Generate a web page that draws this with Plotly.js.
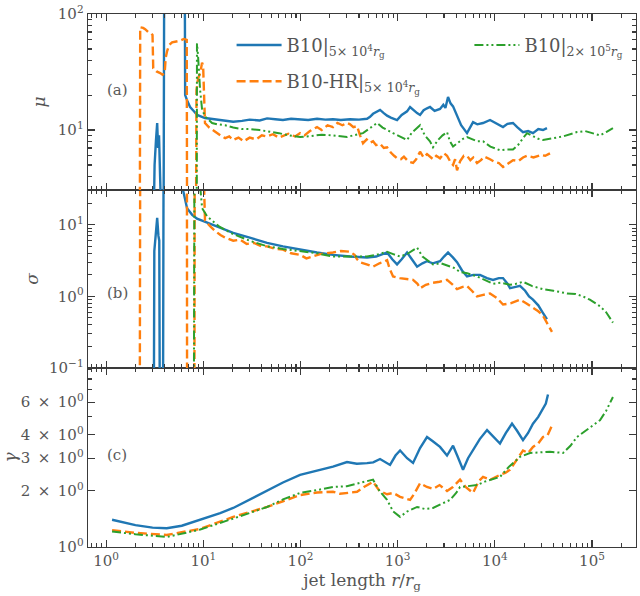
<!DOCTYPE html>
<html>
<head>
<meta charset="utf-8">
<script src="https://cdn.plot.ly/plotly-3.0.1.min.js"></script>
<style>html,body{margin:0;padding:0;background:#fff;}#chart{width:640px;height:596px;}</style>
</head>
<body>
<div id="chart"></div>
<script>
// ---------- Data ----------
const seriesNames = [
  "B10|<sub>5× 10<sup>4</sup><i>r</i><sub>g</sub></sub>",
  "B10-HR|<sub>5× 10<sup>4</sup><i>r</i><sub>g</sub></sub>",
  "B10|<sub>2× 10<sup>5</sup><i>r</i><sub>g</sub></sub>"
];

// Panel (a): mu
const muB10X = [1.15,2.0,3.08,3.15,3.25,3.35,3.42,3.5,3.59,3.7,3.9,3.95,6.45,6.5,6.9,7.31,8.0,8.63,10.4,13,16.8,20.3,25,30,38,45.3,55,66,80,99,120,148,180,216,260,324,400,484,520,558,600,659,720,778,850,986,1100,1250,1342,1450,1585,1700,1850,2005,2153,2400,2728,2950,3100,3300,3500,3716,4085,4500,5175,5600,5970,6600,7564,8929,10300,12140,13500,15380,17000,19500,22000,24700,28000,31310,34410];
const muB10 = [1.2,1.3,1.6,5,8,11.5,7,9,4,1.6,1.6,150,150,20,17.5,15.8,14.5,13.5,12.7,12.4,12.2,11.8,12.0,12.3,12.1,12.6,12.4,12.2,12.5,12.3,12.2,12.5,12.3,12.4,12.2,12.4,12.3,12.5,13.0,13.8,14.2,14.9,14.0,13.3,12.8,12.2,13.5,14.5,15.8,14.8,14.0,13.5,14.8,15.4,15.8,14.6,15.2,16.5,15.5,19.3,17.0,16.0,13.5,11.0,9.4,10.8,11.7,11.2,11.5,12.2,11.5,10.6,11.3,11.5,10.6,9.6,9.8,9.4,10.2,10.0,10.4];

const muHRX = [1.15,2.22,2.24,2.4,2.52,2.7,2.9,3.0,3.05,3.3,3.6,3.8,4.0,4.1,4.24,4.45,4.77,5.3,5.77,6.3,6.75,6.8,8.4,8.5,8.84,9.3,9.7,9.95,10.2,10.4,11.5,13.2,15,16.8,18.5,20.3,23,26,30,35,40,45.3,52,60,66,75,88,99,110,125,148,165,190,216,240,270,300,324,350,382,410,440,480,520,558,600,660,720,778,850,920,986,1080,1160,1250,1340,1440,1550,1700,1850,2005,2311,2500,2728,3000,3221,3500,3716,3900,4085,4400,4800,5175,5600,6000,6560,7200,7800,8929,10000,11000,12140,13500,15380,17500,19500,21440,25000,30000,33000,36960];
const muHR = [1.2,1.3,77,76,74,70,68,66,34,32,31,30,31,42,48,54,57,58,59,61,60,1.4,1.4,22,28,31,38,36,22,11.5,10.5,9.6,9.0,8.5,8.8,8.2,8.6,8.0,8.6,8.3,9.0,8.8,9.2,8.6,8.9,9.3,8.8,9.4,9.0,9.8,10.6,10.0,11.0,10.6,11.5,11.0,11.5,11.2,10.6,10.8,9.0,7.7,8.3,7.8,8.0,7.4,7.6,7.0,7.1,6.4,6.0,5.7,5.6,5.9,5.5,5.3,5.2,5.6,6.5,5.8,6.2,5.6,6.0,5.7,6.3,6.0,5.3,5.0,5.6,4.5,5.4,6.0,6.0,5.5,5.8,5.2,5.5,5.9,5.6,5.3,5.2,4.8,5.1,5.5,5.4,5.8,6.0,5.8,6.1,6.0,6.3];

const muLongX = [1.15,8.0,8.55,8.6,8.8,9.0,9.27,9.72,10.5,12.3,14,16.8,20.3,25,30,38,45.3,60,75,99,130,165,216,260,301,350,400,440,520,614,700,800,897,1000,1100,1250,1400,1600,1700,1900,2150,2311,2600,2900,3221,3450,3716,4200,4700,5175,6000,6560,7564,9000,11300,13000,15380,17500,19500,21440,25000,28000,31310,35000,39690,50000,60000,70140,85000,100000,120800,140000,164300];
const muLong = [1.2,1.3,1.4,56,45,30,22,14.9,13,11.5,11.2,11,10.5,10.2,10.2,10.0,9.8,9.4,9.0,8.7,8.9,9.1,9.0,8.8,8.7,9.0,9.2,9.4,10.4,11.5,10.5,9.8,9.4,9.0,8.6,8.2,9.5,10.4,11.0,9.0,8.0,7.1,8.2,9.0,9.6,8.0,7.2,7.8,8.4,8.7,8.3,8.0,8.0,7.2,6.7,6.8,6.8,7.5,8.5,9.4,8.8,8.4,8.2,8.4,8.5,8.8,9.2,9.6,9.8,9.4,9.0,9.6,10.4];

// Panel (b): sigma
const sigB10X = [1.15,3.1,3.13,3.25,3.35,3.45,3.52,3.56,3.85,3.9,6.15,6.2,6.5,6.8,7.67,8.6,9.72,11.5,13.2,16.8,20.3,30,45.3,66,99,148,216,324,484,600,700,778,880,986,1100,1250,1400,1585,1800,2005,2300,2728,3000,3300,3700,4085,4600,5175,6000,7045,8300,9580,11000,12140,13500,14330,16000,18160,20500,22500,24700,28000,31000,34410];
const sigB10 = [0.05,0.05,4.3,8,12.5,7,6,0.05,0.05,100,100,30,21,17,13.8,12.2,11.4,10.4,9.7,8.5,7.7,6.6,5.6,5.0,4.5,4.1,3.8,3.6,3.5,3.6,3.9,4.1,3.3,2.8,3.3,4.1,3.3,2.6,2.9,3.1,2.9,3.1,3.6,4.1,3.5,3.0,2.3,1.9,2.0,2.0,1.8,1.7,1.8,1.8,1.5,1.3,1.35,1.4,1.2,1.0,0.9,0.75,0.6,0.48];

const sigHRX = [1.15,2.22,2.24,6.78,6.8,8.1,8.15,9.95,10.2,10.4,11.8,13.2,15,16.8,20.3,24,28,33,40,45.3,55,66,80,99,115,130,160,216,260,324,360,382,410,480,558,650,778,830,897,1050,1250,1440,1600,1700,1950,2311,2700,3221,3600,4085,4600,5175,5800,6560,7600,8929,10500,12140,14500,18160,21000,24700,28000,31000,34410,38740];
const sigHR = [0.05,0.05,100,100,0.05,0.05,100,100,30,11.4,9.5,8.2,7.2,6.6,6.0,6.2,5.4,5.6,5.0,5.0,4.6,4.5,4.0,3.8,3.4,3.6,3.9,4.1,4.3,4.2,3.8,3.3,3.0,2.8,2.6,2.9,3.2,2.4,1.9,1.8,1.75,1.7,1.5,1.3,1.45,1.55,1.6,1.7,1.5,1.26,1.35,1.4,1.2,1.0,1.05,1.1,0.95,0.77,0.8,0.9,0.8,0.7,0.62,0.55,0.43,0.32];

const sigLongX = [1.15,8.0,8.1,8.9,9.27,9.72,11,12.3,14.5,16.8,20.3,30,45.3,66,99,148,216,324,484,600,778,900,1059,1250,1585,1800,2311,2800,3221,3800,4385,5200,6560,7800,9580,11500,14330,16500,19500,24000,31310,40000,55330,68000,80760,95000,120800,140000,164300];
const sigLong = [0.05,0.05,100,60,35,17,13,11.4,9.5,8.5,7.4,6.0,5.0,4.6,4.3,4.0,3.6,3.6,3.6,3.8,4.2,3.9,3.6,3.9,4.8,3.6,2.8,2.9,2.7,2.5,2.2,2.1,1.9,1.7,1.5,1.55,1.45,1.5,1.6,1.4,1.26,1.2,1.1,1.08,1.0,0.9,0.73,0.6,0.43];

// Panel (c): gamma
const gamB10X = [1.15,1.5,2.0,3.0,4.2,6.0,9.3,14.9,20.3,30,45.3,66,99,148,216,301,380,484,560,659,760,835,950,1059,1250,1440,1700,2005,2300,2728,3221,3716,4100,4708,5300,5970,7000,8318,9800,11300,13000,15030,17000,19500,22000,24700,28000,31310,33500,35250];
const gamB10 = [1.40,1.35,1.31,1.27,1.26,1.30,1.40,1.52,1.62,1.80,2.02,2.22,2.44,2.58,2.7,2.86,2.80,2.82,2.85,2.97,2.85,2.76,3.1,3.3,3.0,2.83,3.4,3.9,3.7,3.45,3.1,3.5,3.1,2.6,3.0,3.3,3.8,4.25,3.9,3.6,4.1,4.6,4.2,3.75,4.1,4.6,5.0,5.6,5.9,6.6];

const gamHRX = [1.15,2.0,4.2,9.3,20.3,30,45.3,66,99,148,216,255,320,382,450,558,650,778,900,1059,1342,1500,1700,2000,2311,2700,3221,3700,4385,5000,5970,6800,7564,9000,11300,12800,14330,16500,19500,22000,24700,28000,31310,35000,38740];
const gamHR = [1.23,1.19,1.16,1.25,1.45,1.54,1.64,1.76,1.9,1.96,1.98,1.93,1.96,1.98,2.1,2.24,2.0,1.92,1.95,1.86,1.79,1.95,2.2,2.1,2.05,2.15,2.0,2.1,2.3,2.1,1.95,2.25,2.38,2.3,2.44,2.5,2.6,2.9,3.3,3.2,3.45,3.6,3.9,4.0,4.5];

const gamLongX = [1.15,2.0,4.2,9.3,20.3,30,45.3,66,99,148,216,300,410,558,650,778,900,1059,1250,1585,1900,2311,2800,3460,4000,4385,5200,6560,8000,11300,14000,18160,23010,30000,36960,50350,60000,70140,90000,120800,140000,164300];
const gamLong = [1.21,1.17,1.13,1.24,1.42,1.52,1.64,1.8,1.95,2.02,2.1,2.12,2.2,2.3,2.0,1.79,1.55,1.45,1.55,1.64,1.6,1.62,1.7,1.79,1.95,2.1,2.12,2.15,2.25,2.38,2.7,3.05,3.2,3.22,3.25,3.2,3.5,3.9,4.3,4.8,5.4,6.4];

// Tick labels
const xTickVals = [1,10,100,1000,10000,100000];
const xTickText = ["10<sup>0</sup>","10<sup>1</sup>","10<sup>2</sup>","10<sup>3</sup>","10<sup>4</sup>","10<sup>5</sup>"];
const muTickVals = [10,100];
const muTickText = ["10<sup>1</sup>","10<sup>2</sup>"];
const sigTickVals = [0.1,1,10];
const sigTickText = ["10<sup>−1</sup>","10<sup>0</sup>","10<sup>1</sup>"];
const gamTickVals = [1,2,3,4,6];
const gamTickText = ["10<sup>0</sup>","2\u2002×\u200210<sup>0</sup>","3\u2002×\u200210<sup>0</sup>","4\u2002×\u200210<sup>0</sup>","6\u2002×\u200210<sup>0</sup>"];
const panelLabels = ["(a)","(b)","(c)"];

// ---------- Styling & build ----------
function minorLog(lo, hi) {
  const v = [];
  for (let e = lo; e <= hi; e++) for (let m = 2; m <= 9; m++) v.push(m * Math.pow(10, e));
  return v;
}
const colors = ["#1f77b4", "#ff7f0e", "#2ca02c"];
const dashes = ["solid", "9px,4px", "9px,3px,2px,3px,2px,3px"];
const widths = [2.4, 2.4, 2.0];
const legendIds = ["legend", "legend3", "legend2"];

const panels = [
  {xs: [muB10X, muHRX, muLongX], ys: [muB10, muHR, muLong], xa: "x3", ya: "y3"},
  {xs: [sigB10X, sigHRX, sigLongX], ys: [sigB10, sigHR, sigLong], xa: "x2", ya: "y2"},
  {xs: [gamB10X, gamHRX, gamLongX], ys: [gamB10, gamHR, gamLong], xa: "x", ya: "y"}
];
const traces = [];
panels.forEach((p, pi) => {
  for (let s = 0; s < 3; s++) {
    traces.push({
      x: p.xs[s], y: p.ys[s], xaxis: p.xa, yaxis: p.ya,
      type: "scatter", mode: "lines", name: seriesNames[s],
      line: {color: colors[s], width: widths[s], dash: dashes[s]},
      showlegend: pi === 0, legend: legendIds[s]
    });
  }
});

const fontFam = "'DejaVu Serif', 'Liberation Serif', serif";
const axCol = "#3a3a3a";
const txtCol = "#555555";
const tickFont = {family: fontFam, size: 15, color: txtCol};
function baseAxis(extra) {
  return Object.assign({
    type: "log", showline: true, linecolor: axCol, linewidth: 1.4,
    mirror: "allticks", ticks: "inside", ticklen: 7, tickwidth: 1.1, tickcolor: axCol,
    showgrid: false, zeroline: false, tickfont: tickFont, tickmode: "array"
  }, extra);
}
const xRange = [-0.187, 5.453];
const xMinor = {tickvals: minorLog(-1, 5), ticks: "inside", ticklen: 4, tickcolor: axCol, showgrid: false};
const dA = [0.6698, 1], dB = [0.3358, 0.6698], dC = [0, 0.3358];
const legFont = {family: fontFam, size: 18, color: txtCol};
const lblFont = {family: fontFam, size: 15, color: "#5a5a5a"};

const layout = {
  width: 640, height: 596,
  margin: {l: 88, r: 4, t: 14, b: 49},
  paper_bgcolor: "#fff", plot_bgcolor: "#fff",
  showlegend: true,
  xaxis: baseAxis({anchor: "y", range: xRange, tickvals: xTickVals, ticktext: xTickText, minor: xMinor,
    title: {text: "jet length <i>r</i>/<i>r</i><sub>g</sub>", font: {family: fontFam, size: 17, color: txtCol}, standoff: 2}}),
  xaxis2: baseAxis({anchor: "y2", matches: "x", range: xRange, tickvals: xTickVals, ticktext: xTickText, showticklabels: false, minor: xMinor}),
  xaxis3: baseAxis({anchor: "y3", matches: "x", range: xRange, tickvals: xTickVals, ticktext: xTickText, showticklabels: false, minor: xMinor}),
  yaxis: baseAxis({domain: dC, anchor: "x", range: [-0.0005, 0.962], tickvals: gamTickVals, ticktext: gamTickText,
    minor: {tickvals: [5,7,8,9], ticks: "inside", ticklen: 4, tickcolor: axCol, showgrid: false},
    title: {text: "<i>γ</i>", font: {family: fontFam, size: 17, color: txtCol}, standoff: 3}}),
  yaxis2: baseAxis({domain: dB, anchor: "x2", range: [-1.0005, 1.486], tickvals: sigTickVals, ticktext: sigTickText,
    minor: {tickvals: minorLog(-1, 1), ticks: "inside", ticklen: 4, tickcolor: axCol, showgrid: false},
    title: {text: "<i>σ</i>", font: {family: fontFam, size: 17, color: txtCol}, standoff: 6}}),
  yaxis3: baseAxis({domain: dA, anchor: "x3", range: [0.483, 2.0005], tickvals: muTickVals, ticktext: muTickText,
    minor: {tickvals: minorLog(0, 1), ticks: "inside", ticklen: 4, tickcolor: axCol, showgrid: false},
    title: {text: "<i>μ</i>", font: {family: fontFam, size: 17, color: txtCol}, standoff: 8}}),
  legend: {x: 0.262, y: 0.976, xanchor: "left", yanchor: "top", bgcolor: "rgba(0,0,0,0)", borderwidth: 0, font: legFont, itemwidth: 45},
  legend2: {x: 0.696, y: 0.976, xanchor: "left", yanchor: "top", bgcolor: "rgba(0,0,0,0)", borderwidth: 0, font: legFont, itemwidth: 45},
  legend3: {x: 0.262, y: 0.908, xanchor: "left", yanchor: "top", bgcolor: "rgba(0,0,0,0)", borderwidth: 0, font: legFont, itemwidth: 45},
  annotations: [
    {text: panelLabels[0], xref: "paper", yref: "paper", x: 0.053, y: 0.8574, xanchor: "center", yanchor: "middle", showarrow: false, font: lblFont},
    {text: panelLabels[1], xref: "paper", yref: "paper", x: 0.053, y: 0.4765, xanchor: "center", yanchor: "middle", showarrow: false, font: lblFont},
    {text: panelLabels[2], xref: "paper", yref: "paper", x: 0.053, y: 0.1726, xanchor: "center", yanchor: "middle", showarrow: false, font: lblFont}
  ]
};

Plotly.newPlot("chart", traces, layout, {staticPlot: true, displayModeBar: false});
</script>
</body>
</html>
